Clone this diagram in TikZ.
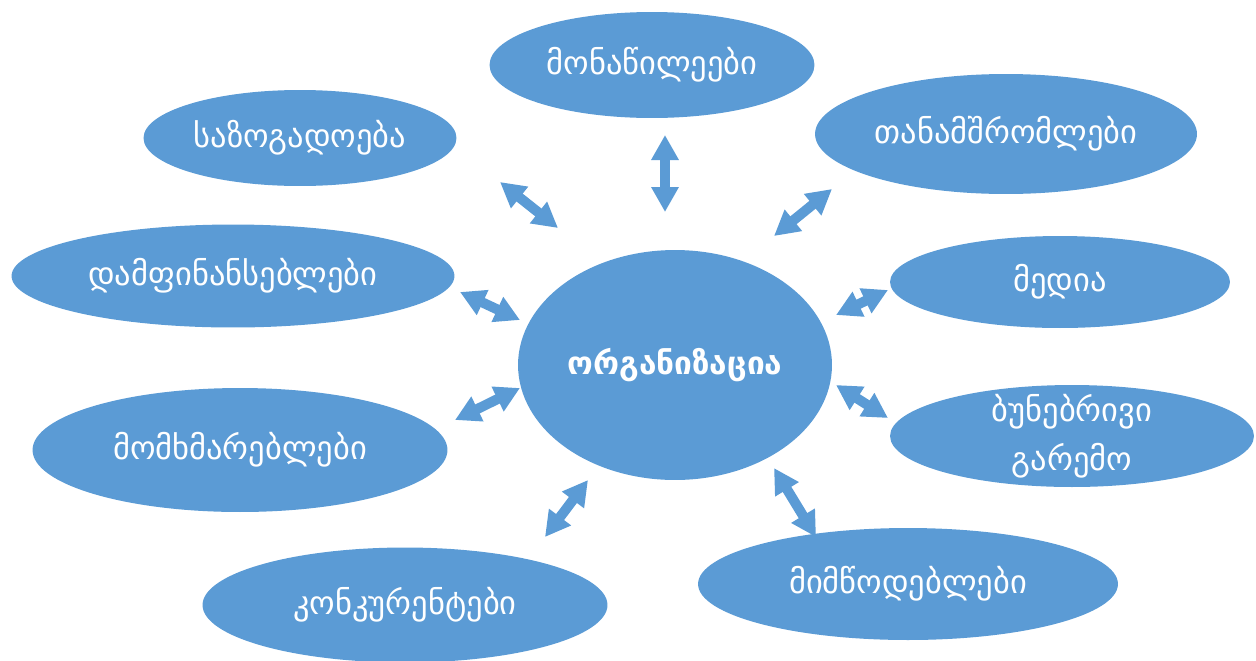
\documentclass[tikz,border=0pt]{standalone}
\usepackage{fontspec}
\newfontfamily\geo{DejaVu Sans}
\usetikzlibrary{shapes.geometric,arrows.meta}
\definecolor{bub}{HTML}{5B9BD5}
\begin{document}
\begin{tikzpicture}[x=0.02cm,y=-0.02cm,
  caption/.style={text=white,inner sep=0pt,
    font=\geo\fontsize{18.5}{28}\selectfont,align=center},
  bubble/.style={ellipse,fill=bub,draw=none,inner sep=0pt,caption},
  link/.style={draw=bub,line width=0.2cm,
    {Triangle[length=0.5cm,width=0.52cm]}-{Triangle[length=0.5cm,width=0.52cm]}}]
\useasboundingbox (0,0) rectangle (1256,660);
% hub
\node[bubble,minimum width=6.28cm,minimum height=4.6cm,font=\geo\bfseries\fontsize{18}{22}\selectfont] (org) at (675,365) {ორგანიზაცია};
% stakeholders
\node[bubble,minimum width=6.5cm,minimum height=2.12cm] (mon) at (652,65) {მონაწილეები};
\node[bubble,minimum width=6.26cm,minimum height=1.92cm] (saz) at (300,138) {საზოგადოება};
\node[bubble,minimum width=7.64cm,minimum height=2.4cm] (tan) at (1006,134) {თანამშრომლები};
\node[bubble,minimum width=8.86cm,minimum height=2.06cm] (dam) at (233,276) {დამფინანსებლები};
\node[bubble,minimum width=6.8cm,minimum height=1.84cm] (med) at (1060,282) {მედია};
\node[bubble,minimum width=8.3cm,minimum height=2.48cm] (mom) at (240,450) {მომხმარებლები};
\node[bubble,minimum width=7.28cm,minimum height=2.04cm] (bun) at (1072,436) {};
\node[caption] (buntext) at (bun.center) {ბუნებრივი\\გარემო};
\node[bubble,minimum width=8.1cm,minimum height=2.3cm] (kon) at (405,605) {კონკურენტები};
\node[bubble,minimum width=8.4cm,minimum height=2.24cm] (mim) at (908,584) {მიმწოდებლები};
% arrow ends
\coordinate (a1) at (665,135); \coordinate (b1) at (665,212);
\coordinate (a2) at (500,182); \coordinate (b2) at (558,228);
\coordinate (a3) at (832,189); \coordinate (b3) at (774,236);
\coordinate (a4) at (460,292); \coordinate (b4) at (520,320);
\coordinate (a5) at (455,420); \coordinate (b5) at (520,388);
\coordinate (a6) at (545,537); \coordinate (b6) at (588,480);
\coordinate (a7) at (816,537); \coordinate (b7) at (774,468);
\coordinate (a8) at (888,290); \coordinate (b8) at (836,315);
\coordinate (a9) at (888,418); \coordinate (b9) at (836,385);
\foreach \i in {1,...,9}{\path[link] (a\i) -- (b\i);}
\end{tikzpicture}
\end{document}
